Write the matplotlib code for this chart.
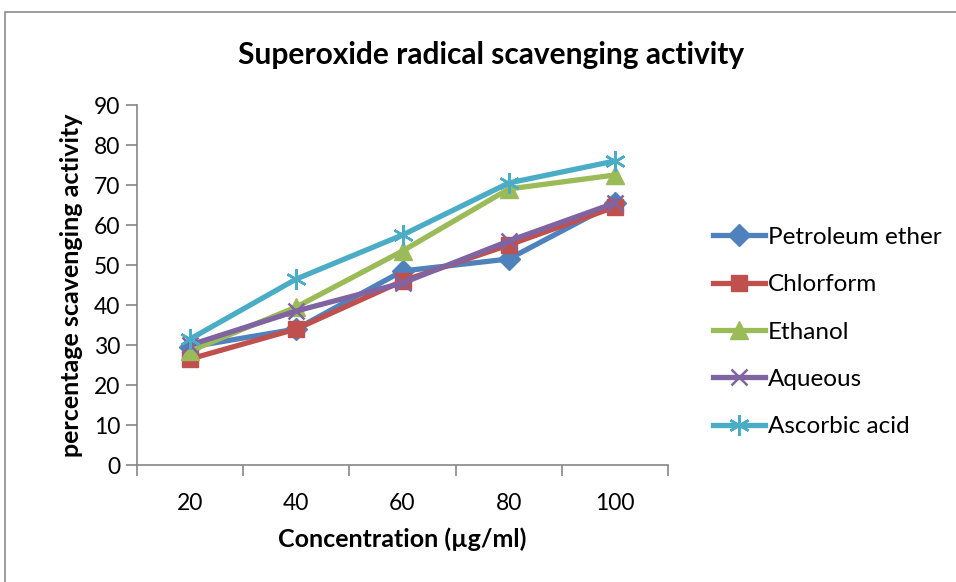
import matplotlib.pyplot as plt
from matplotlib.patches import Rectangle
import numpy as np

plt.rcParams['font.family'] = ['Lato', 'DejaVu Sans']

concentrations = ['20', '40', '60', '80', '100']
petroleum_ether = [29.5, 34.0, 48.5, 51.5, 65.5]
chlorform = [26.5, 34.0, 46.0, 55.0, 64.5]
ethanol = [28.5, 39.5, 53.5, 69.0, 72.5]
aqueous = [30.0, 38.5, 45.5, 56.0, 65.5]
ascorbic_acid = [31.5, 46.5, 57.5, 70.5, 76.0]

series_names = ['Petroleum ether', 'Chlorform', 'Ethanol', 'Aqueous', 'Ascorbic acid']
series_values = [petroleum_ether, chlorform, ethanol, aqueous, ascorbic_acid]
colors = ['#4F81BD', '#C0504D', '#9BBB59', '#8064A2', '#4BACC6']

W, H = 956, 582
fig = plt.figure(figsize=(W / 100, H / 100), dpi=100)

# chart area border (runs off the right and bottom edges)
fig.patches.append(Rectangle((5 / W, -0.1), 1.0, 1.1 - 12 / H, transform=fig.transFigure,
                             fill=False, edgecolor='#8C8C8C', linewidth=1.2))

ax = fig.add_axes([137 / W, 1 - 465 / H, (668 - 137) / W, (465 - 105) / H])

x = np.arange(len(concentrations))
lw = 3.8
for name, vals, c in zip(series_names, series_values, colors):
    if name == 'Petroleum ether':
        ax.plot(x, vals, color=c, lw=lw, marker='D', ms=11, label=name, zorder=3)
    elif name == 'Chlorform':
        ax.plot(x, vals, color=c, lw=lw, marker='s', ms=12, label=name, zorder=3)
    elif name == 'Ethanol':
        ax.plot(x, vals, color=c, lw=lw, marker='^', ms=13, label=name, zorder=3)
    elif name == 'Aqueous':
        ax.plot(x, vals, color=c, lw=lw, marker='x', ms=12, mew=1.8, label=name, zorder=3)
    else:
        # asterisk marker: x plus a vertical bar
        ax.plot(x, vals, color=c, lw=lw, marker=(6, 2, 0), ms=15, mew=1.8,
                label=name, zorder=3)

ax.set_xlim(-0.5, len(concentrations) - 0.5)
ax.set_ylim(0, 90)
ax.set_yticks(np.arange(0, 91, 10))
ax.set_xticks(np.arange(-0.5, len(concentrations), 1.0))
ax.set_xticklabels([])
ax.set_xticks(x, minor=True)
ax.set_xticklabels(concentrations, minor=True)
ax.tick_params(axis='x', which='minor', length=0, pad=20, labelsize=16.5)
ax.tick_params(axis='x', which='major', length=8, color='#868686', width=1.2)
ax.tick_params(axis='y', length=8, color='#868686', width=1.2, labelsize=16.5, pad=4)

for s in ['top', 'right']:
    ax.spines[s].set_visible(False)
for s in ['left', 'bottom']:
    ax.spines[s].set_color('#868686')
    ax.spines[s].set_linewidth(1.2)

ax.set_xlabel('Concentration (\u00b5g/ml)', fontsize=18, fontweight='bold', labelpad=10)
ax.set_ylabel('percentage scavenging activity', fontsize=18, fontweight='bold', labelpad=8)

fig.text(491 / W, 1 - 55 / H, 'Superoxide radical scavenging activity',
         ha='center', va='center', fontsize=21.5, fontweight='bold')

fig.legend(loc='center left', bbox_to_anchor=(703 / W, 1 - 332 / H), frameon=False,
           fontsize=17.5, handlelength=2.15, handletextpad=0.12, labelspacing=1.08,
           numpoints=1, borderaxespad=0)

fig.savefig('out.png', dpi=100)
